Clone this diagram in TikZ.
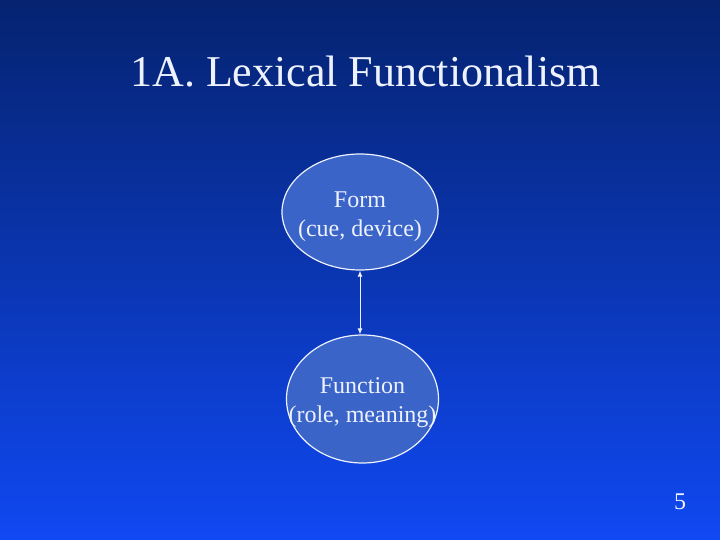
\documentclass[tikz,border=0pt]{standalone}
\usepackage{fontspec}
\setmainfont{Liberation Serif}
\usetikzlibrary{arrows.meta,shapes.geometric}
\definecolor{bgtop}{HTML}{052370}
\definecolor{bgbot}{HTML}{1048F2}
\definecolor{ellfill}{HTML}{3A64C8}
\definecolor{txt}{HTML}{EEF2FF}
\tikzset{
  bubble/.style={ellipse, draw=txt, line width=1.2pt, fill=ellfill, inner sep=0pt},
  bubbletext/.style={text=txt, align=center, font=\fontsize{24}{29}\selectfont, inner sep=0pt},
  link/.style={draw=txt, line width=1pt, {Latex[length=6pt,width=5pt]}-{Latex[length=6pt,width=5pt]}}
}
\begin{document}
\begin{tikzpicture}[x=1pt,y=-1pt]
\useasboundingbox (0,0) rectangle (720,540);
\shade[top color=bgtop, bottom color=bgbot] (0,0) rectangle (720,540);
\node[text=txt, font=\fontsize{44}{50}\selectfont] (title) at (365.5,72) {1A. Lexical Functionalism};
\node[bubble, minimum width=156pt, minimum height=116pt] (form) at (360,212) {};
\node[bubble, minimum width=152pt, minimum height=128pt] (func) at (362.5,399) {};
\node[bubbletext] (formtext) at ([yshift=-5pt]form.center) {Form\\(cue, device)};
\node[bubbletext] (functext) at ([yshift=-4pt]func.center) {Function\\(role, meaning)};
\draw[link] (form.south) -- (form.south |- func.north);
\node[text=txt, font=\fontsize{24}{29}\selectfont] (num) at (680,502) {5};
\end{tikzpicture}
\end{document}
